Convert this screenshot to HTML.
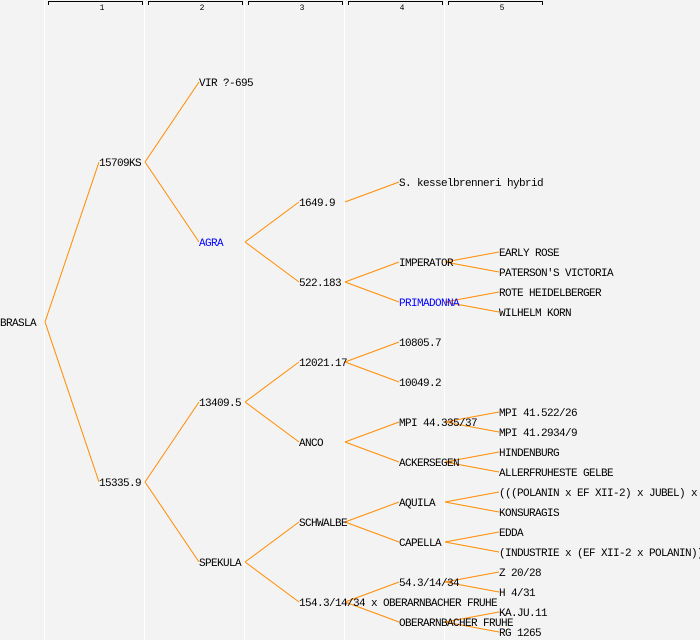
<!DOCTYPE html>
<html><head><meta charset="utf-8"><style>
html,body{margin:0;padding:0;background:#f3f3f3;}
svg{display:block;}
text{font-family:"Liberation Mono","DejaVu Sans Mono",monospace;font-size:11px;letter-spacing:-0.6px;fill:#000;}
text.h{font-size:8px;letter-spacing:0;}
</style></head><body>
<svg width="700" height="640" xmlns="http://www.w3.org/2000/svg">
<rect width="700" height="640" fill="#f3f3f3"/>
<g stroke="#fff" stroke-width="1">
<line x1="44.5" y1="0" x2="44.5" y2="640"/>
<line x1="144.5" y1="0" x2="144.5" y2="640"/>
<line x1="244.5" y1="0" x2="244.5" y2="640"/>
<line x1="344.5" y1="0" x2="344.5" y2="640"/>
<line x1="444.5" y1="0" x2="444.5" y2="640"/>
</g>
<g fill="none" stroke="#000" stroke-width="1">
<path d="M48.5,5 V1.5 H142.5 V5"/>
<path d="M148.5,5 V1.5 H242.5 V5"/>
<path d="M248.5,5 V1.5 H342.5 V5"/>
<path d="M348.5,5 V1.5 H442.5 V5"/>
<path d="M448.5,5 V1.5 H542.5 V5"/>
</g>
<g text-anchor="middle">
<text class="h" x="102" y="10">1</text>
<text class="h" x="202" y="10">2</text>
<text class="h" x="302" y="10">3</text>
<text class="h" x="402" y="10">4</text>
<text class="h" x="502" y="10">5</text>
</g>
<g stroke="#ff8c00" stroke-width="1" fill="none">
<path d="M45,322 L99,162 M45,322 L99,482"/>
<path d="M145,162 L199,82 M145,162 L199,242"/>
<path d="M145,482 L199,402 M145,482 L199,562"/>
<path d="M245,242 L299,202 M245,242 L299,282"/>
<path d="M245,402 L299,362 M245,402 L299,442"/>
<path d="M245,562 L299,522 M245,562 L299,602"/>
<path d="M345,202 L399,182"/>
<path d="M345,282 L399,262 M345,282 L399,302"/>
<path d="M345,362 L399,342 M345,362 L399,382"/>
<path d="M345,442 L399,422 M345,442 L399,462"/>
<path d="M345,522 L399,502 M345,522 L399,542"/>
<path d="M345,602 L399,582 M345,602 L399,622"/>
<path d="M445,262 L499,252 M445,262 L499,272"/>
<path d="M445,302 L499,292 M445,302 L499,312"/>
<path d="M445,422 L499,412 M445,422 L499,432"/>
<path d="M445,462 L499,452 M445,462 L499,472"/>
<path d="M445,502 L499,492 M445,502 L499,512"/>
<path d="M445,542 L499,532 M445,542 L499,552"/>
<path d="M445,582 L499,572 M445,582 L499,592"/>
<path d="M445,622 L499,612 M445,622 L499,632"/>
</g>
<g>
<text x="0" y="326">BRASLA</text>
<text x="99" y="166">15709KS</text>
<text x="99" y="486">15335.9</text>
<text x="199" y="86">VIR ?-695</text>
<text x="199" y="246" style="fill:#0000ff">AGRA</text>
<text x="199" y="406">13409.5</text>
<text x="199" y="566">SPEKULA</text>
<text x="299" y="206">1649.9</text>
<text x="299" y="286">522.183</text>
<text x="299" y="366">12021.17</text>
<text x="299" y="446">ANCO</text>
<text x="299" y="526">SCHWALBE</text>
<text x="299" y="606">154.3/14/34 x OBERARNBACHER FRUHE</text>
<text x="399" y="186">S. kesselbrenneri hybrid</text>
<text x="399" y="266">IMPERATOR</text>
<text x="399" y="306" style="fill:#0000ff">PRIMADONNA</text>
<text x="399" y="346">10805.7</text>
<text x="399" y="386">10049.2</text>
<text x="399" y="426">MPI 44.335/37</text>
<text x="399" y="466">ACKERSEGEN</text>
<text x="399" y="506">AQUILA</text>
<text x="399" y="546">CAPELLA</text>
<text x="399" y="586">54.3/14/34</text>
<text x="399" y="626">OBERARNBACHER FRUHE</text>
<text x="499" y="256">EARLY ROSE</text>
<text x="499" y="276">PATERSON'S VICTORIA</text>
<text x="499" y="296">ROTE HEIDELBERGER</text>
<text x="499" y="316">WILHELM KORN</text>
<text x="499" y="416">MPI 41.522/26</text>
<text x="499" y="436">MPI 41.2934/9</text>
<text x="499" y="456">HINDENBURG</text>
<text x="499" y="476">ALLERFRUHESTE GELBE</text>
<text x="499" y="496">(((POLANIN x EF XII-2) x JUBEL) x</text>
<text x="499" y="516">KONSURAGIS</text>
<text x="499" y="536">EDDA</text>
<text x="499" y="556">(INDUSTRIE x (EF XII-2 x POLANIN))</text>
<text x="499" y="576">Z 20/28</text>
<text x="499" y="596">H 4/31</text>
<text x="499" y="616">KA.JU.11</text>
<text x="499" y="636">RG 1265</text>
</g>
</svg>
</body></html>
